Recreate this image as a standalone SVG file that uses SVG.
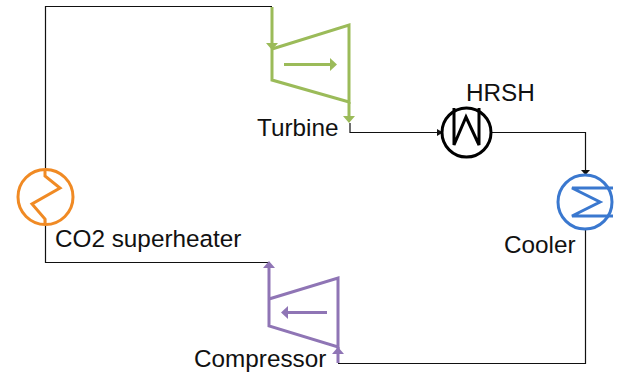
<svg xmlns="http://www.w3.org/2000/svg" width="619" height="372" viewBox="0 0 619 372">
<style>
text{font-family:"Liberation Sans",Arial,sans-serif;font-size:24.3px;fill:#111}
.c{fill:none;stroke:#111;stroke-width:1.2}
.g{fill:none;stroke:#9bbb59;stroke-width:3}
.gf{fill:#9bbb59}
.p{fill:none;stroke:#8f75b5;stroke-width:3}
.pf{fill:#8f75b5}
.o{fill:none;stroke:#f08a24;stroke-width:3}
.b{fill:none;stroke:#3a78cf;stroke-width:3}
.k{fill:none;stroke:#000;stroke-width:3}
</style>
<rect width="619" height="372" fill="#fff"/>
<g id="connectors">
<path class="c" d="M272 6.500H45.500V168"/>
<path class="c" d="M45.500 219V262.500H268"/>
<path class="c" d="M350 123V132.500H437"/>
<polygon points="443,132.500 437,129 437,136" fill="#111"/>
<path class="c" d="M492 132.500H585.500V170"/>
<polygon points="585.500,175 581,170 590,170" fill="#111"/>
<path class="c" d="M585.500 229V363.500H338"/>
</g>
<g id="turbine">
<path class="g" d="M272 7V80L349 102V25L272 49"/>
<path class="g" d="M349 102V120"/>
<path class="g" d="M284 64.500H332"/>
<polygon class="gf" points="337,64.500 330,58 330,71"/>
<polygon class="gf" points="272,50 266,43 278,43"/>
<polygon class="gf" points="349,123 343,116 355,116"/>
<text x="257" y="136">Turbine</text>
</g>
<g id="hrsh">
<circle class="k" cx="466.500" cy="132.500" r="24.500"/>
<path class="k" d="M454 108V145L466 117L479 145V108"/>
<text x="466" y="101">HRSH</text>
</g>
<g id="cooler">
<circle class="b" cx="585" cy="202" r="27"/>
<path class="b" d="M613 188H572L600 202L572 216H613"/>
<text x="504" y="253">Cooler</text>
</g>
<g id="superheater">
<circle class="o" cx="45.500" cy="197" r="27.500"/>
<path class="o" d="M45 170V176L60 188L32 204L45 219V224"/>
<text x="55" y="247">CO2 superheater</text>
</g>
<g id="compressor">
<path class="p" d="M269 268V326L338 347V278L269 299"/>
<path class="p" d="M338 347V363"/>
<path class="p" d="M327 312.500H286"/>
<polygon class="pf" points="281,312.500 288,306 288,319"/>
<polygon class="pf" points="269,261 263,268 275,268"/>
<polygon class="pf" points="338,347 332,354 344,354"/>
<text x="194" y="367">Compressor</text>
</g>
</svg>
